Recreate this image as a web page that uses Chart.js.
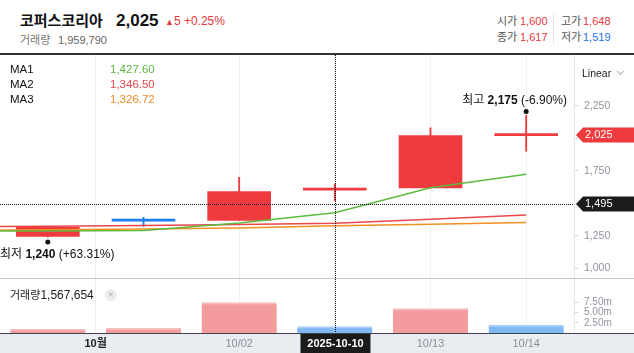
<!DOCTYPE html>
<html><head><meta charset="utf-8">
<script src="https://cdn.jsdelivr.net/npm/chart.js@4/dist/chart.umd.min.js"></script>
<style>
html,body{margin:0;padding:0;background:#fff;}
body{width:634px;height:353px;position:relative;overflow:hidden;font-family:"Liberation Sans","Noto Sans CJK KR",sans-serif;}
#c{position:absolute;left:0;top:0;}
.t{position:absolute;white-space:nowrap;line-height:1.2;transform:translateY(-50%);}
#hdr{position:absolute;left:0;top:0;width:634px;height:53px;background:#fff;border-bottom:2px solid #333;}
</style></head><body>
<canvas id="c" width="634" height="353"></canvas>
<div id="hdr">
  <span class="t" id="name" style="left:20px;top:21px;font-size:15px;font-weight:bold;color:#111"></span>
  <span class="t" id="last" style="left:116px;top:21px;font-size:17px;font-weight:bold;color:#111"></span>
  <span class="t" id="chg" style="left:165px;top:21px;font-size:12px;color:#e8383c"></span>
  <span class="t" style="left:20px;top:41px;font-size:11px;color:#777">거래량</span>
  <span class="t" id="lastVol" style="left:58px;top:41px;font-size:11px;color:#666"></span>
  <span class="t" style="left:497px;top:22px;font-size:11px;color:#555">시가</span>
  <span class="t" id="o" style="left:520px;top:22px;font-size:11px"></span>
  <span class="t" style="left:497px;top:38px;font-size:11px;color:#555">종가</span>
  <span class="t" id="cl" style="left:520px;top:38px;font-size:11px"></span>
  <div style="position:absolute;left:553px;top:13px;width:1px;height:31px;background:#e3e5e8"></div>
  <span class="t" style="left:561px;top:22px;font-size:11px;color:#555">고가</span>
  <span class="t" id="h" style="left:583px;top:22px;font-size:11px"></span>
  <span class="t" style="left:561px;top:38px;font-size:11px;color:#555">저가</span>
  <span class="t" id="l" style="left:583px;top:38px;font-size:11px"></span>
</div>
<span class="t" style="left:10px;top:70px;font-size:11.5px;color:#111">MA1</span>
<span class="t" id="ma1v" style="left:110px;top:70px;font-size:11.5px;color:#5bb83d"></span>
<span class="t" style="left:10px;top:85px;font-size:11.5px;color:#111">MA2</span>
<span class="t" id="ma2v" style="left:110px;top:85px;font-size:11.5px;color:#e8454a"></span>
<span class="t" style="left:10px;top:100px;font-size:11.5px;color:#111">MA3</span>
<span class="t" id="ma3v" style="left:110px;top:100px;font-size:11.5px;color:#f08a1f"></span>
<span class="t" style="left:582px;top:73px;font-size:10.5px;color:#222">Linear</span>
<div style="position:absolute;left:618px;top:69px;width:4px;height:4px;border-right:1px solid #aaa;border-bottom:1px solid #aaa;transform:rotate(45deg)"></div>
<span class="t" style="left:10px;top:295px;font-size:11px;color:#222">거래량<span id="crossVol" style="font-size:12px"></span></span>
<div style="position:absolute;left:105px;top:289px;width:12px;height:12px;border-radius:6px;background:#eeeeee;color:#b5b5b5;font-size:10px;line-height:12px;text-align:center">×</div>
<script>
// ---- data ----
const stockName = '코퍼스코리아';
const dates   = ['2025-09-29','2025-09-30','2025-10-01','2025-10-02','2025-10-10','2025-10-13','2025-10-14'];
const opens   = [null, 1245, 1365, 1368, 1600, 1617, 2020];
const highs   = [null, 1322, 1392, 1699, 1648, 2080, 2175];
const lows    = [null, 1240, 1322, 1368, 1519, 1617, 1900];
const closes  = [null, 1314, 1362, 1590, 1617, 2020, 2025];
const volumes = [null, 900000, 1140000, 7480000, 1567654, 6000000, 1959790];
const ma1 = [1286, 1287, 1291, 1348, 1427.60, 1619, 1722];
const ma2 = [1320, 1323, 1328, 1336, 1346.50, 1376, 1410];
const ma3 = [1291, 1297, 1302, 1309, 1326.72, 1338, 1352];
const priceTicks  = [1000, 1250, 1500, 1750, 2000, 2250];
const volumeTicks = [2500000, 5000000, 7500000];
const crossIndex = 4;
const crossPrice = 1495;

// ---- helpers ----
const RED = '#ef3a3e', BLUE = '#1f7ff0';
const FONT = "'Liberation Sans','Noto Sans CJK KR',sans-serif";
const fmt = v => v.toLocaleString('en-US');
const idx = dates.map((d, i) => i).filter(i => opens[i] != null);
const last = idx[idx.length - 1];
const candleColor = i => closes[i] >= opens[i] ? RED : BLUE;
const volUp = i => i === idx[0] || volumes[i] >= volumes[i - 1];

// header texts
document.getElementById('name').textContent = stockName;
document.getElementById('last').textContent = fmt(closes[last]);
const diff = closes[last] - closes[last - 1];
document.getElementById('chg').innerHTML = '<span style="font-size:9px">▲</span>' + diff + ' +' + (diff / closes[last - 1] * 100).toFixed(2) + '%';
document.getElementById('lastVol').textContent = fmt(volumes[last]);
const prevC = closes[crossIndex - 1];
[['o', opens], ['cl', closes], ['h', highs], ['l', lows]].forEach(([id, arr]) => {
  const el = document.getElementById(id); const v = arr[crossIndex];
  el.textContent = fmt(v); el.style.color = v >= prevC ? '#e8383c' : '#1a73e8';
});
const fmt2 = v => v.toFixed(2).replace(/\B(?=(\d{3})+(?!\d))/, ',');
document.getElementById('ma1v').textContent = fmt2(ma1[crossIndex]);
document.getElementById('ma2v').textContent = fmt2(ma2[crossIndex]);
document.getElementById('ma3v').textContent = fmt2(ma3[crossIndex]);
document.getElementById('crossVol').textContent = fmt(volumes[crossIndex]);

// x ticks: month boundary + dates after month start
let monthStart = idx.find(i => dates[i].slice(5, 7) !== dates[i - 1].slice(5, 7));
const xTicks = [{ value: monthStart - 0.5, text: parseInt(dates[monthStart].slice(5, 7)) + '월', major: true }];
idx.filter(i => i > monthStart).forEach(i => xTicks.push({ value: i, text: dates[i].slice(5).replace('-', '/') }));

const lineDs = (label, arr, color) => ({
  type: 'line', label, data: arr.map((v, i) => ({ x: i, y: v })), borderColor: color,
  borderWidth: 1.5, pointRadius: 0, tension: 0, yAxisID: 'y', order: 0
});

const overlay = {
  id: 'overlay',
  beforeDraw(chart) {
    const { ctx, chartArea: ca } = chart;
    ctx.save();
    ctx.fillStyle = '#e9ecf0';
    ctx.fillRect(0, ca.bottom, chart.width, chart.height - ca.bottom);
    ctx.restore();
  },
  afterDraw(chart) {
    const { ctx, chartArea: ca, scales } = chart;
    const x = scales.x, y = scales.y, v = scales.v;
    ctx.save();
    // pane separator
    ctx.strokeStyle = '#c3c7ce'; ctx.lineWidth = 1;
    ctx.beginPath(); ctx.moveTo(0, Math.round(v.top) + 0.5); ctx.lineTo(chart.width, Math.round(v.top) + 0.5); ctx.stroke();
    // x band top line
    ctx.strokeStyle = '#3f434a';
    ctx.beginPath(); ctx.moveTo(0, ca.bottom + 0.5); ctx.lineTo(chart.width, ca.bottom + 0.5); ctx.stroke();
    // crosshair
    const cx = Math.round(x.getPixelForValue(crossIndex)) + 0.5;
    const cy = Math.round(y.getPixelForValue(crossPrice)) + 0.5;
    ctx.strokeStyle = '#111'; ctx.setLineDash([1, 1]);
    ctx.beginPath(); ctx.moveTo(cx, ca.top); ctx.lineTo(cx, ca.bottom); ctx.stroke();
    ctx.beginPath(); ctx.moveTo(ca.left, cy); ctx.lineTo(ca.right, cy); ctx.stroke();
    ctx.setLineDash([]);
    // price tags
    const tag = (val, py, color) => {
      const l = ca.right + 2, h = 7.5;
      ctx.fillStyle = color;
      ctx.beginPath(); ctx.moveTo(l, py); ctx.lineTo(l + 7, py - h); ctx.lineTo(chart.width, py - h);
      ctx.lineTo(chart.width, py + h); ctx.lineTo(l + 7, py + h); ctx.closePath(); ctx.fill();
      ctx.fillStyle = '#fff'; ctx.font = '11px ' + FONT; ctx.textBaseline = 'middle'; ctx.textAlign = 'left';
      ctx.fillText(fmt(val), l + 9, py + 0.5);
    };
    tag(closes[last], y.getPixelForValue(closes[last]), '#ef3a3e');
    tag(crossPrice, y.getPixelForValue(crossPrice), '#1c1c1c');
    // crosshair date box
    ctx.font = 'bold 11px ' + FONT;
    const dt = dates[crossIndex];
    const bw = 70;
    ctx.fillStyle = '#1b1b1b';
    ctx.fillRect(cx - bw / 2, ca.bottom + 1, bw, chart.height - ca.bottom - 1);
    ctx.fillStyle = '#fff'; ctx.textAlign = 'center'; ctx.textBaseline = 'middle';
    ctx.fillText(dt, cx, ca.bottom + 10.5);
    // hi / lo markers
    let hiI = idx[0], loI = idx[0];
    idx.forEach(i => { if (highs[i] > highs[hiI]) hiI = i; if (lows[i] < lows[loI]) loI = i; });
    const marker = (i, val, title, dy, ty) => {
      const px = x.getPixelForValue(i), py = y.getPixelForValue(val) + dy;
      ctx.fillStyle = '#111'; ctx.beginPath(); ctx.arc(px, py, 2.5, 0, Math.PI * 2); ctx.fill();
      const pct = (closes[last] / val - 1) * 100;
      const parts = [[title + ' ', 'normal'], [fmt(val), 'bold'], [' (' + (pct >= 0 ? '+' : '') + pct.toFixed(2) + '%)', 'normal']];
      let w = 0;
      parts.forEach(p => { ctx.font = p[1] + ' 12px ' + FONT; w += ctx.measureText(p[0]).width; });
      let sx = px - w / 2;
      if (sx < ca.left) sx = ca.left;
      if (sx + w > ca.right - 7) sx = ca.right - 7 - w;
      ctx.textAlign = 'left'; ctx.textBaseline = 'middle'; ctx.fillStyle = '#111';
      parts.forEach(p => { ctx.font = p[1] + ' 12px ' + FONT; ctx.fillText(p[0], sx, py + ty); sx += ctx.measureText(p[0]).width; });
    };
    marker(hiI, highs[hiI], '최고', -4, -11);
    marker(loI, lows[loI], '최저', 5, 13);
    ctx.restore();
  }
};

new Chart(document.getElementById('c'), {
  data: {
    datasets: [
      lineDs('MA1', ma1, '#5dbb3f'),
      lineDs('MA2', ma2, '#e8474c'),
      lineDs('MA3', ma3, '#f39021'),
      { type: 'bar', label: 'body', data: idx.map(i => ({ x: i, y: [opens[i], closes[i]] })),
        backgroundColor: idx.map(candleColor), barThickness: 63, minBarLength: 2, grouped: false, yAxisID: 'y', order: 5 },
      { type: 'bar', label: 'wick', data: idx.map(i => ({ x: i, y: [lows[i], highs[i]] })),
        backgroundColor: idx.map(candleColor), barThickness: 1.2, grouped: false, yAxisID: 'y', order: 6 },
      { type: 'bar', label: 'volume', data: idx.map(i => ({ x: i, y: volumes[i] })),
        backgroundColor: idx.map(i => volUp(i) ? '#f49c9d' : '#80b8f4'),
        borderColor: idx.map(i => volUp(i) ? '#f8bcbc' : '#abd0f7'),
        borderWidth: { top: 2, left: 0, right: 0, bottom: 0 }, borderSkipped: 'bottom',
        barThickness: 75, grouped: false, yAxisID: 'v', order: 7 }
    ]
  },
  options: {
    responsive: false, animation: false, events: [],
    layout: { padding: { top: 55, left: 0, right: 0, bottom: 0 } },
    plugins: { legend: { display: false }, tooltip: { enabled: false } },
    scales: {
      x: {
        type: 'linear', position: 'bottom', offset: false, min: idx[0] - 0.5, max: last + 0.5,
        afterBuildTicks: s => { s.ticks = xTicks.map(t => ({ value: t.value })); },
        afterFit: s => { s.height = 20; },
        grid: { color: '#eef0f3', drawTicks: false, offset: false },
        border: { display: false },
        ticks: {
          autoSkip: false, maxRotation: 0, padding: 4,
          callback: (val, i) => xTicks[i] ? xTicks[i].text : '',
          font: c => ({ size: 11, family: FONT, weight: (xTicks[c.index] && xTicks[c.index].major) ? 'bold' : 'normal' }),
          color: c => (xTicks[c.index] && xTicks[c.index].major) ? '#222' : '#8b9099'
        }
      },
      y: {
        type: 'linear', position: 'right', stack: 'right', stackWeight: 223, min: 925, max: 2640,
        afterBuildTicks: s => { s.ticks = priceTicks.map(v => ({ value: v })); },
        afterFit: s => { s.width = 60; },
        grid: { drawOnChartArea: false, drawTicks: true, tickLength: 4, color: '#d3d7dd' },
        border: { display: true, color: '#e5e8ec' },
        ticks: { autoSkip: false, color: '#8f949c', padding: 6, font: { size: 10.5, family: FONT }, callback: v => fmt(v) }
      },
      v: {
        type: 'linear', position: 'right', stack: 'right', stackWeight: 55, min: 0, max: 13500000,
        afterBuildTicks: s => { s.ticks = volumeTicks.map(v => ({ value: v })); },
        afterFit: s => { s.width = 60; },
        grid: { drawOnChartArea: false, drawTicks: true, tickLength: 4, color: '#d3d7dd' },
        border: { display: true, color: '#e5e8ec' },
        ticks: { autoSkip: false, color: '#8f949c', padding: 6, font: { size: 10, family: FONT }, callback: v => (v / 1e6).toFixed(2) + 'm' }
      }
    }
  },
  plugins: [overlay]
});
</script>
</body></html>
